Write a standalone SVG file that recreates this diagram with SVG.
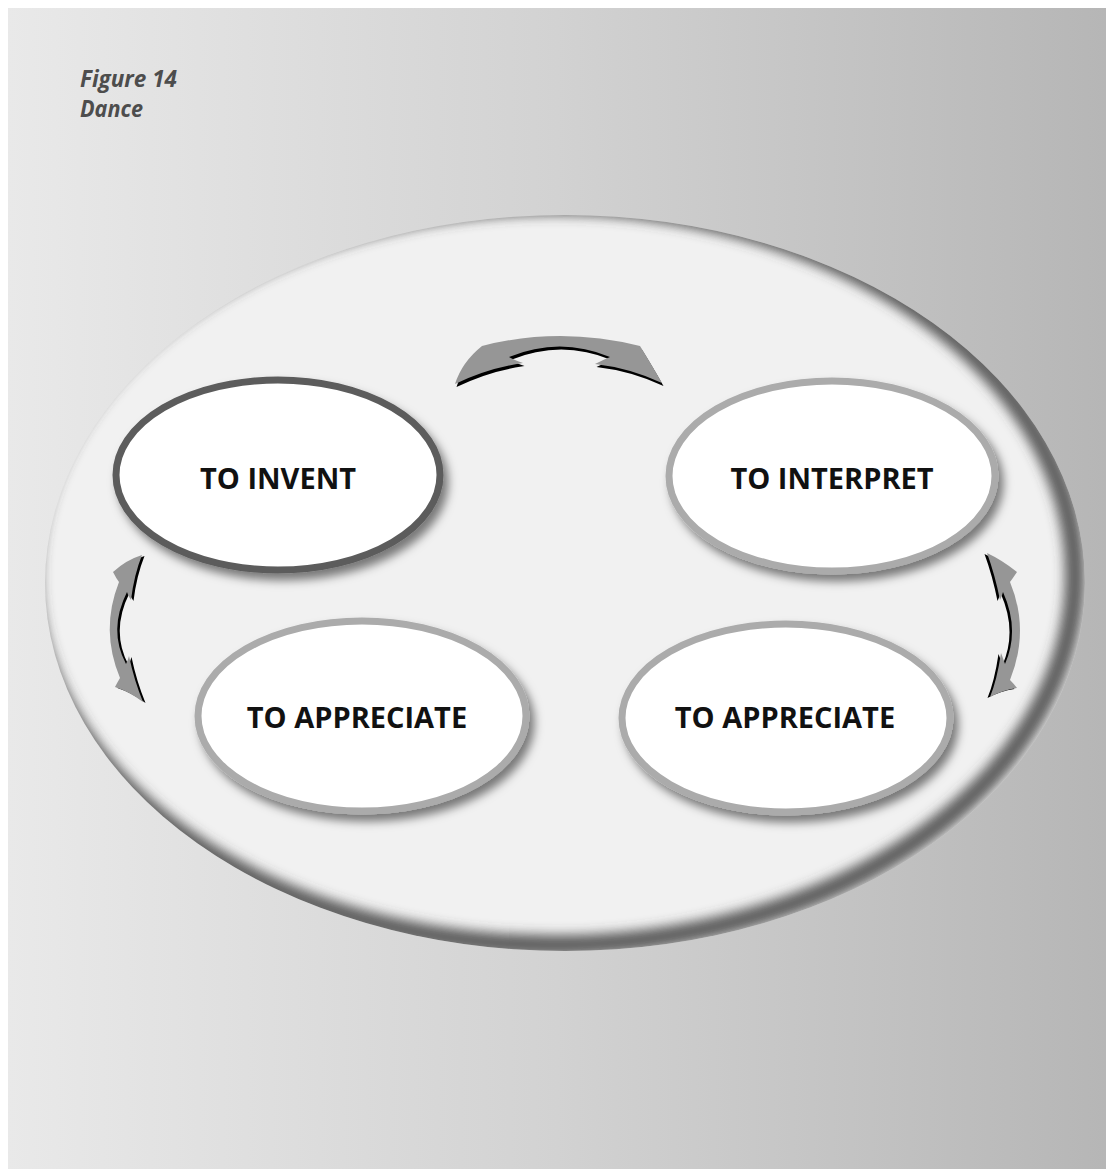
<svg xmlns="http://www.w3.org/2000/svg" width="1106" height="1169" viewBox="0 0 1106 1169">
<defs>
<linearGradient id="bg" x1="0" y1="0" x2="1" y2="0">
<stop offset="0" stop-color="#e9e9e9"/>
<stop offset="0.5" stop-color="#d2d2d2"/>
<stop offset="1" stop-color="#b6b6b6"/>
</linearGradient>
<clipPath id="bigclip"><ellipse cx="565" cy="583" rx="520" ry="368"/></clipPath>
<filter id="blur8" x="-20%" y="-20%" width="140%" height="140%"><feGaussianBlur stdDeviation="6"/></filter>
<filter id="nodeShadow" x="-20%" y="-20%" width="140%" height="150%">
<feDropShadow dx="5" dy="7" stdDeviation="5" flood-color="#000" flood-opacity="0.5"/>
</filter>
<filter id="soft" x="-20%" y="-20%" width="140%" height="140%"><feGaussianBlur stdDeviation="0.6"/></filter>
</defs>
<style>
.lbl{font-family:"Open Sans","Liberation Sans",sans-serif;font-weight:700;font-size:29px;fill:#111;text-anchor:middle}
.title{font-family:"Open Sans","Liberation Sans",sans-serif;font-weight:700;font-style:italic;font-size:24px;fill:#4d4d4d}
.node{fill:#ffffff;stroke-width:7;filter:url(#nodeShadow)}
.arrow{fill:#969696}
.ashadow{fill:#000;filter:url(#soft)}
</style>
<rect x="0" y="0" width="1106" height="1169" fill="#ffffff"/>
<rect x="8" y="8" width="1098" height="1161" fill="url(#bg)"/>
<text class="title" x="80" y="87" textLength="97" lengthAdjust="spacingAndGlyphs">Figure 14</text>
<text class="title" x="80" y="117" textLength="63" lengthAdjust="spacingAndGlyphs">Dance</text>
<g id="panel">
<ellipse cx="565" cy="583" rx="520" ry="368" fill="#f1f1f1"/>
<g clip-path="url(#bigclip)">
<ellipse cx="553" cy="575" rx="522" ry="370" fill="none" stroke="#444" stroke-opacity="0.85" stroke-width="20" filter="url(#blur8)"/>
</g>
</g>
<g id="connectors">
<g id="arrow-top">
<path class="ashadow" transform="translate(1.5,3)" d="M455,384 Q462,362 482,346 Q560,326 640,346 Q650,362 662,383 Q630,368 595,364 Q605,359 610,357 Q560,336 509,357 Q514,360 523,363 Q488,368 455,384 Z"/>
<path class="arrow" d="M455,384 Q462,362 482,346 Q560,326 640,346 Q650,362 662,383 Q630,368 595,364 Q605,359 610,357 Q560,336 509,357 Q514,360 523,363 Q488,368 455,384 Z"/>
</g>
<g id="arrow-left">
<path class="ashadow" transform="translate(2.5,1)" d="M142,555 Q126,560 113,572 Q116,578 119,582 Q100,630 120,678 Q117,683 115,687 Q130,692 143,702 Q134,680 129,656 Q128,660 126,664 Q108,630 127,592 Q128,596 131,600 Q134,575 142,555 Z"/>
<path class="arrow" d="M142,555 Q126,560 113,572 Q116,578 119,582 Q100,630 120,678 Q117,683 115,687 Q130,692 143,702 Q134,680 129,656 Q128,660 126,664 Q108,630 127,592 Q128,596 131,600 Q134,575 142,555 Z"/>
</g>
<g id="arrow-right">
<path class="ashadow" transform="translate(-2.5,1)" d="M987,553 Q1002,560 1017,572 Q1013,578 1010,582 Q1030,630 1010,680 Q1014,684 1017,688 Q1003,690 990,697 Q997,680 1001,653 Q1003,658 1005,664 Q1020,630 1003,592 Q1002,596 1000,600 Q995,575 987,553 Z"/>
<path class="arrow" d="M987,553 Q1002,560 1017,572 Q1013,578 1010,582 Q1030,630 1010,680 Q1014,684 1017,688 Q1003,690 990,697 Q997,680 1001,653 Q1003,658 1005,664 Q1020,630 1003,592 Q1002,596 1000,600 Q995,575 987,553 Z"/>
</g>
</g>
<g id="node-invent">
<ellipse class="node" cx="278" cy="475" rx="162" ry="95" stroke="#5c5c5c"/>
<text class="lbl" x="278" y="489">TO INVENT</text>
</g>
<g id="node-interpret">
<ellipse class="node" cx="832" cy="476" rx="163" ry="95" stroke="#ababab"/>
<text class="lbl" x="832" y="489">TO INTERPRET</text>
</g>
<g id="node-appreciate-left">
<ellipse class="node" cx="362" cy="716" rx="164" ry="95" stroke="#ababab"/>
<text class="lbl" x="357" y="728">TO APPRECIATE</text>
</g>
<g id="node-appreciate-right">
<ellipse class="node" cx="786" cy="718" rx="164" ry="94" stroke="#ababab"/>
<text class="lbl" x="785" y="728">TO APPRECIATE</text>
</g>
</svg>
